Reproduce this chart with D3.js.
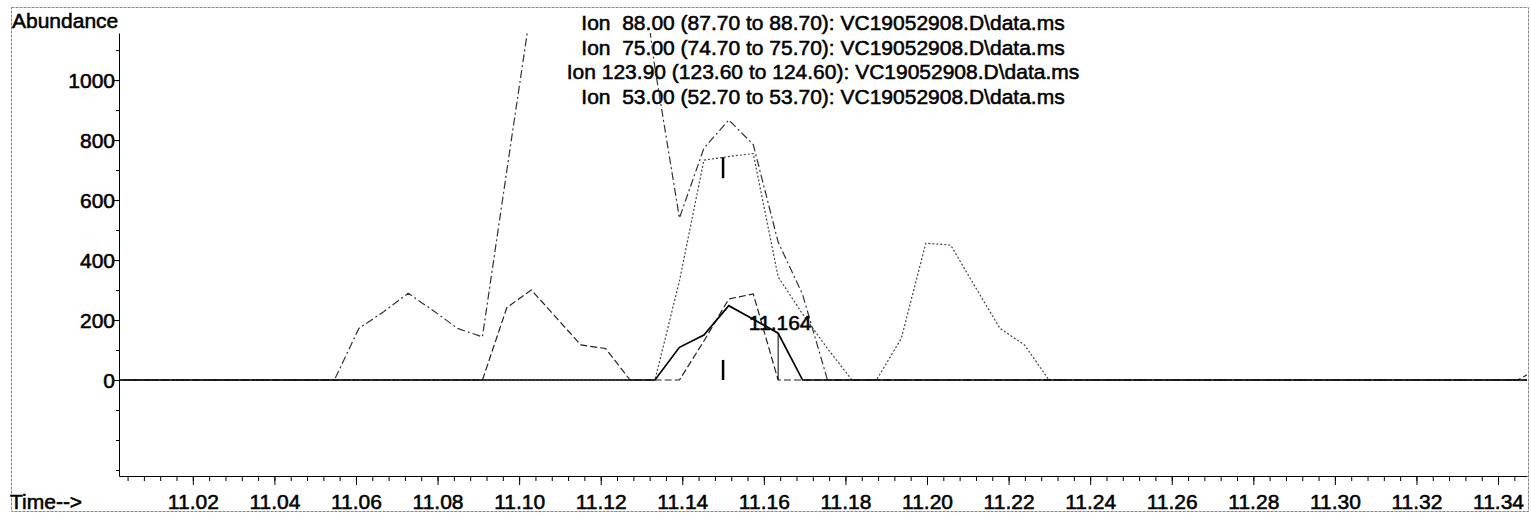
<!DOCTYPE html>
<html><head><meta charset="utf-8">
<script src="https://cdn.jsdelivr.net/npm/d3@7"></script>
<style>
html,body{margin:0;padding:0;background:#fff;}
svg{display:block;}
text{font-family:"Liberation Sans",Arial,Helvetica,sans-serif;font-weight:normal;fill:#000;stroke:#000;stroke-width:0.55px;}
</style></head><body>
<svg id="chart" width="1531" height="514"></svg>
<script>
// ---- data ----
const times = [11.0003,11.0064,11.0124,11.0184,11.0245,11.0305,11.0366,11.0426,11.0487,11.0547,
  11.0607,11.0668,11.0728,11.0789,11.0849,11.0910,11.0970,11.1030,11.1091,11.1151,
  11.1212,11.1272,11.1333,11.1393,11.1453,11.1514,11.1574,11.1635,11.1695,11.1756,
  11.1816,11.1876,11.1937,11.1997,11.2058,11.2118,11.2179,11.2239,11.2299,11.2360,
  11.2420,11.2481,11.2541,11.2602,11.2662,11.2722,11.2783,11.2843,11.2904,11.2964,
  11.3025,11.3085,11.3145,11.3206,11.3266,11.3327,11.3387,11.3448,11.3508];
const ion88 = [0,0,0,0,0,0,0,0,0,0, 0,0,0,0,0,0,0,0,0,0, 0,0,0,109,150,248,203,156,0,0,
  0,0,0,0,0,0,0,0,0,0, 0,0,0,0,0,0,0,0,0,0, 0,0,0,0,0,0,0,0,0];
const ion75 = [0,0,0,0,0,0,0,0,0,0, 172,228,289,232,172,144,700,1250,1500,1700, 1750,1660,1040,540,773,867,785,460,285,0,
  0,0,0,0,0,0,0,0,0,0, 0,0,0,0,0,0,0,0,0,0, 0,0,0,0,0,0,0,0,0];
const ion123 = [0,0,0,0,0,0,0,0,0,0, 0,0,0,0,0,0,0,0,0,0, 0,0,0,330,733,745,755,344,220,105,
  0,0,139,456,450,311,172,117,0,0, 0,0,0,0,0,0,0,0,0,0, 0,0,0,0,0,0,0,0,0];
const ion53 = [0,0,0,0,0,0,0,0,0,0, 0,0,0,0,0,0,242,300,208,117, 105,0,0,0,130,270,287,0,0,0,
  0,0,0,0,0,0,0,0,0,0, 0,0,0,0,0,0,0,0,0,0, 0,0,0,0,0,0,0,0,45];
const titles = [
  "Ion  88.00 (87.70 to 88.70): VC19052908.D\\data.ms",
  "Ion  75.00 (74.70 to 75.70): VC19052908.D\\data.ms",
  "Ion 123.90 (123.60 to 124.60): VC19052908.D\\data.ms",
  "Ion  53.00 (52.70 to 53.70): VC19052908.D\\data.ms"
];
const yTickValues = [0,200,400,600,800,1000];
const yTickLabels = ["0","200","400","600","800","1000"];
const xTickValues = [11.02,11.04,11.06,11.08,11.10,11.12,11.14,11.16,11.18,11.20,11.22,11.24,11.26,11.28,11.30,11.32,11.34];
const xTickLabels = ["11.02","11.04","11.06","11.08","11.10","11.12","11.14","11.16","11.18","11.20","11.22","11.24","11.26","11.28","11.30","11.32","11.34"];
const peakRT = 11.164, peakLabel = "11.164";
const markerRT = 11.150;
const markerSpans = [[673,743],[0,67]];
const peakEndIndex = 27;

// ---- chart ----
const FS = 21;
const svg = d3.select("#chart");
const L = 119, R = 1527, T = 33, B = 476;
const x = d3.scaleLinear().domain([11.0019, 11.3471]).range([L, R]);
const y = d3.scaleLinear().domain([-320, 1157]).range([B, T]);

svg.append("rect").attr("x",0).attr("y",0).attr("width",1531).attr("height",514).attr("fill","#fff");
svg.append("rect").attr("x",11.5).attr("y",7.5).attr("width",1517).attr("height",504)
  .attr("fill","none").attr("stroke","#888").attr("stroke-width",1).attr("stroke-dasharray","3,1");

svg.append("defs").append("clipPath").attr("id","plot")
  .append("rect").attr("x",L).attr("y",T).attr("width",R-L).attr("height",B-T);

// axes
const xMinor = d3.range(11.004, 11.3471, 0.004);
svg.append("g").attr("transform",`translate(0,${B})`)
  .call(d3.axisBottom(x).tickValues(xMinor).tickSize(5).tickSizeOuter(0).tickFormat(""))
  .call(g=>g.selectAll("line").attr("stroke","#000"))
  .call(g=>g.select(".domain").attr("stroke","#000"));
const xg = svg.append("g").attr("transform",`translate(0,${B})`)
  .call(d3.axisBottom(x).tickValues(xTickValues).tickSize(9).tickSizeOuter(0)
    .tickFormat((d,i)=>xTickLabels[i]));
xg.select(".domain").remove();
xg.selectAll("text").attr("y",33).attr("dy",null).attr("font-size",FS)
  .attr("font-family",null).attr("fill","#000");

const yMinor = d3.range(-300, 1157, 100);
svg.append("g").attr("transform",`translate(${L},0)`)
  .call(d3.axisLeft(y).tickValues(yMinor).tickSize(3).tickSizeOuter(0).tickFormat(""))
  .call(g=>g.select(".domain").attr("stroke","#000"));
const yg = svg.append("g").attr("transform",`translate(${L},0)`)
  .call(d3.axisLeft(y).tickValues(yTickValues).tickSize(5).tickSizeOuter(0)
    .tickFormat((d,i)=>yTickLabels[i]));
yg.select(".domain").remove();
yg.selectAll("text").attr("x",-4).attr("dy","0.35em").attr("font-size",FS)
  .attr("font-family",null).attr("fill","#000");
[xg, yg].forEach(g=>g.attr("font-family",null).attr("font-size",null));

svg.append("text").attr("x",12).attr("y",28).attr("font-size",FS).text("Abundance");
svg.append("text").attr("x",10).attr("y",509).attr("font-size",FS).text("Time-->");

// title lines
svg.append("g").selectAll("text").data(titles).join("text")
  .attr("x",(L+R)/2).attr("y",(d,i)=>30+i*24.5).attr("text-anchor","middle")
  .attr("font-size",FS).style("white-space","pre").text(d=>d);

// traces
const series = [
  {v: ion53, dash:"7,3", color:"#222", w:1.2},
  {v: ion123, dash:"2,2", color:"#444", w:1.2},
  {v: ion75, dash:"8,3,2,3", color:"#333", w:1.2},
  {v: ion88, dash:null, color:"#000", w:1.7}
];
const line = d3.line().x((d,i)=>x(times[i])).y(d=>y(d));
const pg = svg.append("g").attr("clip-path","url(#plot)");
series.forEach(s=>{
  pg.append("path").datum(s.v).attr("d",line).attr("fill","none")
    .attr("stroke",s.color).attr("stroke-width",s.w)
    .attr("stroke-dasharray",s.dash);
});

// integration drop line
pg.append("line").attr("x1",x(times[peakEndIndex])).attr("x2",x(times[peakEndIndex]))
  .attr("y1",y(ion88[peakEndIndex])).attr("y2",y(0)).attr("stroke","#000").attr("stroke-width",1);

// RT markers
markerSpans.forEach(s=>{
  svg.append("line").attr("x1",x(markerRT)).attr("x2",x(markerRT))
    .attr("y1",y(s[1])).attr("y2",y(s[0])).attr("stroke","#000").attr("stroke-width",2.5);
});

svg.append("text").attr("x",x(peakRT)).attr("y",330).attr("text-anchor","middle")
  .attr("font-size",FS).text(peakLabel);
</script>
</body></html>
